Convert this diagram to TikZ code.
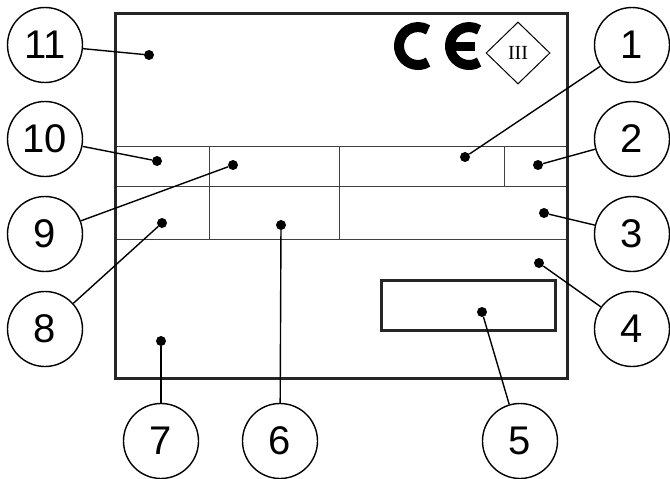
\documentclass[tikz,border=0pt]{standalone}
\usepackage{fontspec}
\setmainfont{Liberation Sans}
\newfontfamily\catfont{Liberation Serif}
\usetikzlibrary{shapes.geometric}
\usetikzlibrary{positioning}
\tikzset{callout/.style={draw,circle,minimum size=75pt,inner sep=0pt,line width=1.4pt,
                         font=\fontsize{40}{40}\selectfont},
         dotmark/.style={fill,circle,minimum size=10pt,inner sep=0pt},
         leader/.style={line width=1.4pt},
         plate/.style={line width=3pt,draw=black!85},
         gridline/.style={line width=1pt,draw=black!75},
         cemark/.style={line width=10pt},
         }

\begin{document}
\begin{tikzpicture}[x=1pt,y=-1pt]
\useasboundingbox (0,0) rectangle (670,479);
% plate with its fields
\draw[gridline] (115,146) -- (567,146) (115,186) -- (567,186) (115,239) -- (567,239);
\draw[gridline] (209,146) -- (209,239) (339,146) -- (339,239) (504,146) -- (504,186);
\draw[plate] (115,13) rectangle (567,378);
\draw[plate] (381,280) rectangle (555,330);
% CE marking and category
\draw[cemark] ([shift={(58:19)}]418,46) arc[start angle=58,end angle=302,radius=19];
\draw[cemark] ([shift={(58:19)}]469,46) arc[start angle=58,end angle=302,radius=19];
\fill (455,42) rectangle (475,51);
\node[draw,diamond,line width=1pt,minimum width=64pt,minimum height=62pt,inner sep=0pt,
      font=\catfont\fontsize{20}{20}\selectfont] (cat) at (518,53) {III};
% dots
\node[dotmark] (d1) at (465,157) {};
\node[dotmark] (d2) at (538,165) {};
\node[dotmark] (d3) at (544,213) {};
\node[dotmark] (d4) at (539,263) {};
\node[dotmark] (d5) at (482,312) {};
\node[dotmark] (d6) at (281,225) {};
\node[dotmark] (d7) at (161,341) {};
\node[dotmark] (d8) at (162,223) {};
\node[dotmark] (d9) at (233,165) {};
\node[dotmark] (d10) at (157,161) {};
\node[dotmark] (d11) at (149,55) {};
% callouts
\node[callout] (c1) at (632,45) {1};
\node[callout] (c2) at (632,139) {2};
\node[callout] (c3) at (632,234) {3};
\node[callout] (c4) at (632,329) {4};
\node[callout] (c5) at (520,441) {5};
\node[callout] (c6) at (280,441) {6};
\node[callout] (c7) at (161,441) {7};
\node[callout] (c8) at (45,329) {8};
\node[callout] (c9) at (45,234) {9};
\node[callout] (c10) at (45,139) {10};
\node[callout] (c11) at (45,45) {11};
% leaders
\draw[leader] (c1) -- (d1);
\draw[leader] (c2) -- (d2);
\draw[leader] (c3) -- (d3);
\draw[leader] (c4) -- (d4);
\draw[leader] (c5) -- (d5);
\draw[leader] (c6) -- (d6);
\draw[leader] (c7) -- (d7);
\draw[leader] (c8) -- (d8);
\draw[leader] (c9) -- (d9);
\draw[leader] (c10) -- (d10);
\draw[leader] (c11) -- (d11);
\end{tikzpicture}
\end{document}
